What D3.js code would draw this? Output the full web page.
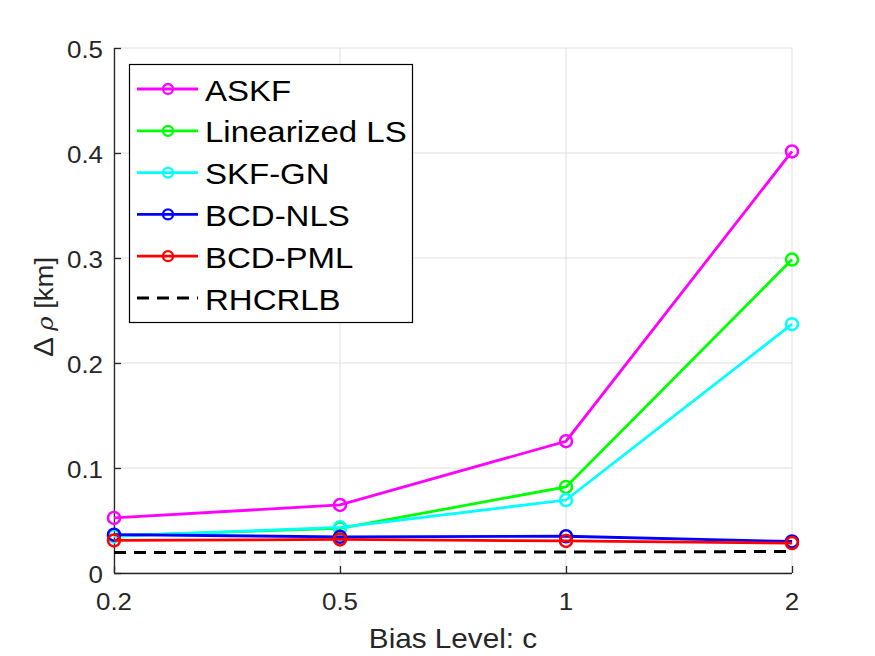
<!DOCTYPE html>
<html>
<head>
<meta charset="utf-8">
<script src="https://cdn.jsdelivr.net/npm/d3@7"></script>
<style>
  html, body { margin: 0; padding: 0; background: #fff; }
  svg { display: block; font-family: "Liberation Sans", Arial, sans-serif; }
</style>
</head>
<body>
<svg id="chart" width="875" height="656"></svg>
<script>
// ---- data ----
const categories = ["0.2", "0.5", "1", "2"];
const seriesNames = ["ASKF", "Linearized LS", "SKF-GN", "BCD-NLS", "BCD-PML", "RHCRLB"];
const askf = [0.0525, 0.0648, 0.1255, 0.4015];
const linLS = [0.0355, 0.0425, 0.0820, 0.2985];
const skfGN = [0.0350, 0.0435, 0.0695, 0.2370];
const bcdNLS = [0.0365, 0.0345, 0.0350, 0.0300];
const bcdPML = [0.0310, 0.0320, 0.0305, 0.0285];
const rhcrlb = [0.0195, 0.0198, 0.0200, 0.0205];
const yTicks = [0, 0.1, 0.2, 0.3, 0.4, 0.5];
const xLabel = "Bias Level: c";

const seriesColors = ["#ff00ff", "#00ff00", "#00ffff", "#0000ff", "#ff0000", "#000000"];
const seriesValues = [askf, linLS, skfGN, bcdNLS, bcdPML, rhcrlb];

// ---- layout ----
const svg = d3.select("#chart");
const pLeft = 114, pRight = 792, pTop = 48, pBottom = 573;
const axisColor = "#262626";
const gridColor = "#dfdfdf";

const x = d3.scalePoint().domain(categories).range([pLeft, pRight]);
const y = d3.scaleLinear().domain([0, 0.5]).range([pBottom, pTop]);

function stretchedText(g, tx, ty, str, size, anchor, color, sx, rotate) {
  const t = g.append("text")
    .attr("transform", `translate(${tx},${ty})` + (rotate ? ` rotate(${rotate})` : "") + ` scale(${sx},1)`)
    .attr("text-anchor", anchor)
    .attr("font-size", size)
    .attr("fill", color);
  if (typeof str === "string") t.text(str);
  return t;
}

// grid
const grid = svg.append("g");
grid.selectAll("line.gx").data(categories).join("line")
  .attr("x1", d => x(d)).attr("x2", d => x(d))
  .attr("y1", pTop).attr("y2", pBottom)
  .attr("stroke", gridColor).attr("stroke-width", 1);
grid.selectAll("line.gy").data(yTicks).join("line")
  .attr("x1", pLeft).attr("x2", pRight)
  .attr("y1", d => y(d)).attr("y2", d => y(d))
  .attr("stroke", gridColor).attr("stroke-width", 1);

// axes
const xAxis = d3.axisBottom(x).tickSize(-7).tickFormat(() => "");
const yAxis = d3.axisLeft(y).tickValues(yTicks).tickSize(-7).tickFormat(() => "");
const gx = svg.append("g").attr("transform", `translate(0,${pBottom})`).call(xAxis);
const gy = svg.append("g").attr("transform", `translate(${pLeft},0)`).call(yAxis);
[gx, gy].forEach(g => {
  g.select(".domain").attr("stroke", axisColor).attr("stroke-width", 1.3);
  g.selectAll(".tick line").attr("stroke", axisColor).attr("stroke-width", 1.3);
});
gx.select(".domain").attr("d", `M${pLeft},0.5H${pRight}`);
gy.select(".domain").attr("d", `M0.5,${pBottom}V${pTop}`);

// tick labels
const labels = svg.append("g");
categories.forEach(c => stretchedText(labels, x(c), 610, c, 24, "middle", axisColor, 1.08));
yTicks.forEach(v => stretchedText(labels, 103, y(v) + 10, d3.format("")(v), 24, "end", axisColor, 1.08));

// axis titles
stretchedText(labels, (pLeft + pRight) / 2, 648, xLabel, 27, "middle", axisColor, 1.1);
const yl = stretchedText(labels, 53, 307, null, 25, "middle", axisColor, 1.1, -90);
yl.append("tspan").attr("font-size", 27).text("\u0394 ");
yl.append("tspan").attr("font-style", "italic").attr("font-family", "'DejaVu Serif', serif").attr("font-size", 22).text("\u03C1");
yl.append("tspan").text(" [km]");

// series
const line = d3.line().x((d, i) => x(categories[i])).y(d => y(d));
const plot = svg.append("g");
seriesValues.forEach((vals, si) => {
  const isDash = si === 5;
  plot.append("path")
    .attr("d", line(vals))
    .attr("fill", "none")
    .attr("stroke", seriesColors[si])
    .attr("stroke-width", isDash ? 3 : 2.8)
    .attr("stroke-dasharray", isDash ? "12,8" : null);
  if (!isDash) {
    plot.selectAll(null).data(vals).join("circle")
      .attr("cx", (d, i) => x(categories[i]))
      .attr("cy", d => y(d))
      .attr("r", 6)
      .attr("fill", "none")
      .attr("stroke", seriesColors[si])
      .attr("stroke-width", 2.5);
  }
});

// legend
const lg = svg.append("g");
lg.append("rect").attr("x", 129.5).attr("y", 64.5).attr("width", 283).attr("height", 258)
  .attr("fill", "#fff").attr("stroke", "#000").attr("stroke-width", 1.2);
seriesNames.forEach((name, i) => {
  const cy = 89 + i * 41.8;
  const isDash = i === 5;
  lg.append("line").attr("x1", 137).attr("x2", 198).attr("y1", cy).attr("y2", cy)
    .attr("stroke", seriesColors[i]).attr("stroke-width", isDash ? 3 : 2.8)
    .attr("stroke-dasharray", isDash ? "12,8" : null);
  if (!isDash) {
    lg.append("circle").attr("cx", 168).attr("cy", cy).attr("r", 5)
      .attr("fill", "none").attr("stroke", seriesColors[i]).attr("stroke-width", 2.3);
  }
  stretchedText(lg, 205, cy + 11.5, name, 30, "start", "#000", 1.1);
});
</script>
</body>
</html>
